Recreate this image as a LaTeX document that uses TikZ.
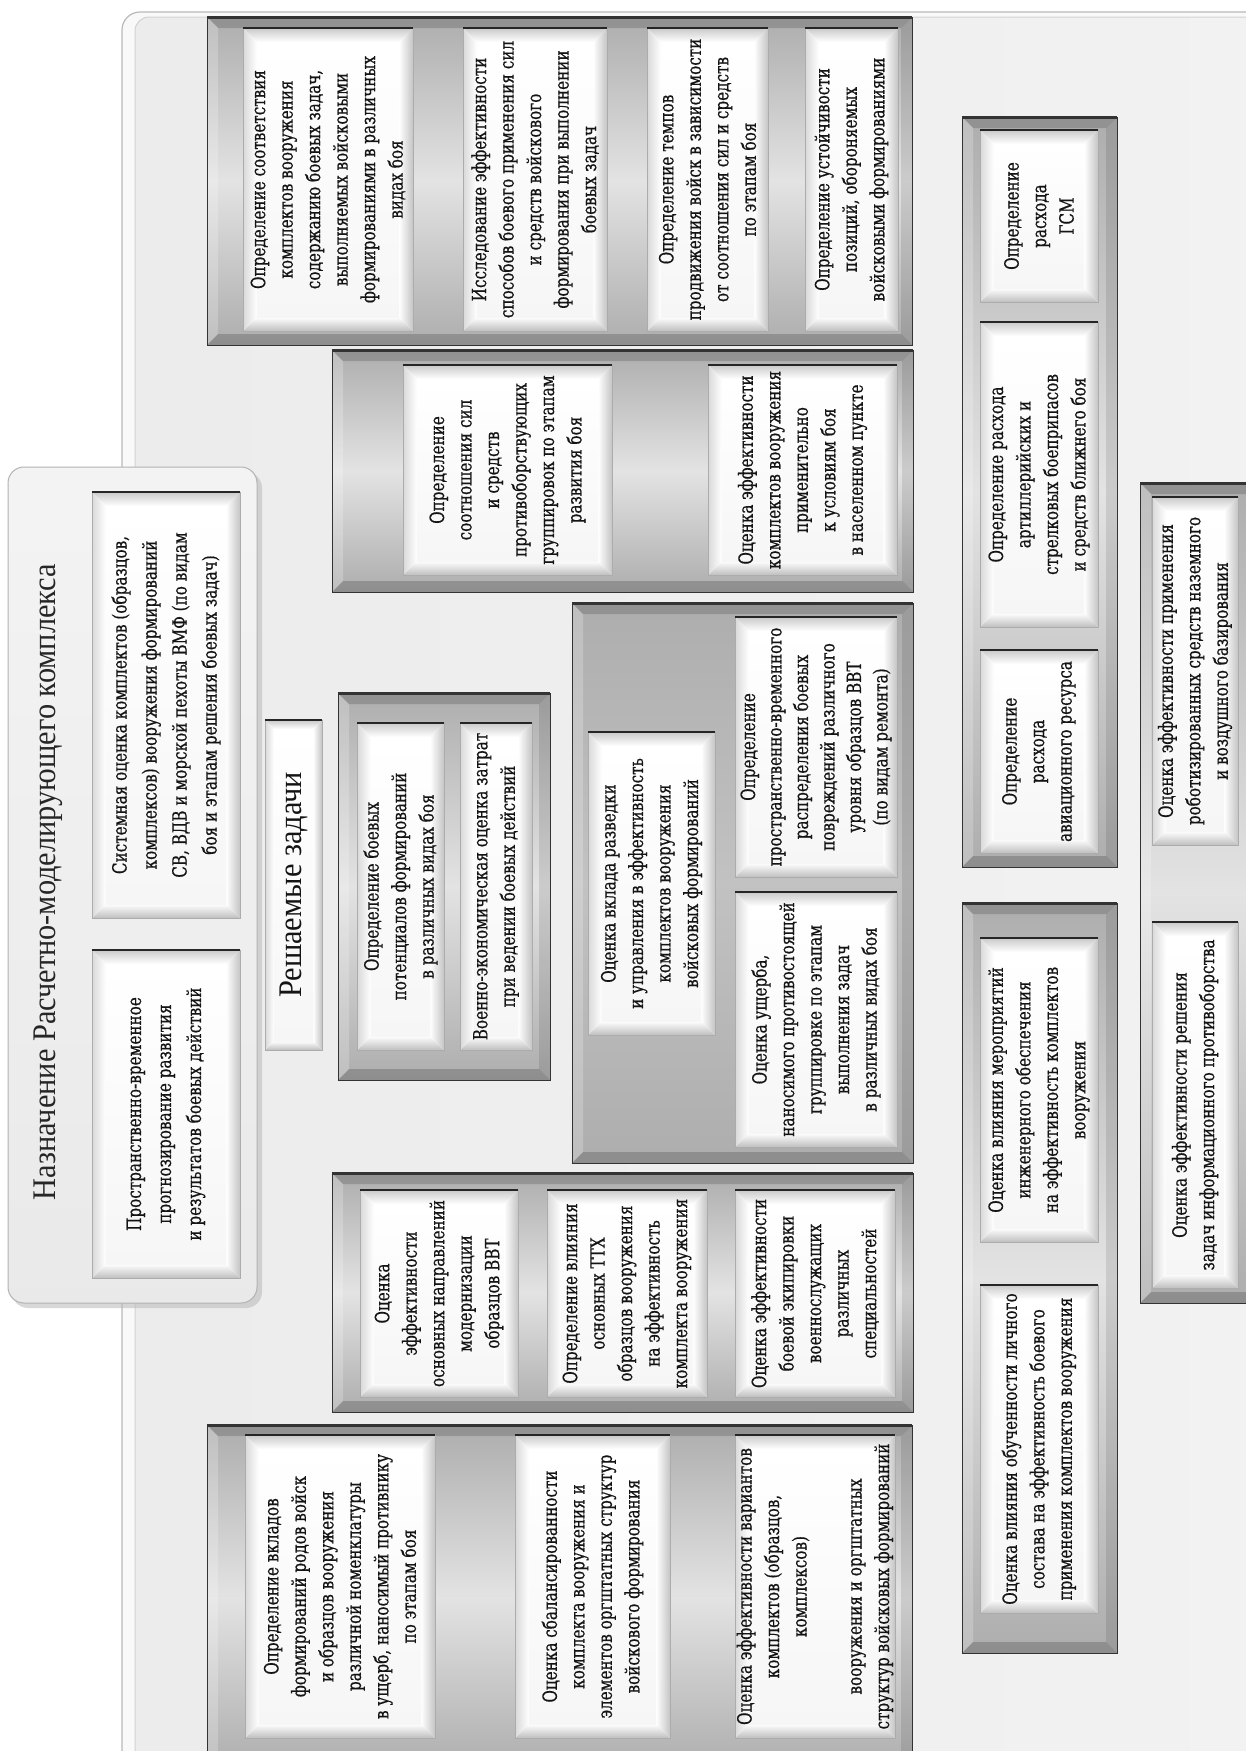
\documentclass[tikz,border=0pt]{standalone}
\usepackage{fontspec}
\setmainfont{Liberation Serif}
\newfontfamily\boxfont{DejaVu Serif}[FakeStretch=0.78,FakeBold=0.6]
\newfontfamily\headfont{Liberation Serif}[FakeStretch=0.92]

% bevelled white cell: [bevel]{name}{x1}{y1}{x2}{y2}{text}
\newcommand{\tbox}[7][14]{%
  \pgfmathsetmacro\bxa{#3+#1}\pgfmathsetmacro\bxb{#5-#1}%
  \pgfmathsetmacro\bya{#4+#1}\pgfmathsetmacro\byb{#6-#1}%
  \fill[white] (#3,#4) rectangle (#5,#6);
  \shade[top color=gray!42, bottom color=white] (#3,#4) -- (#5,#4) -- (\bxb,\bya) -- (\bxa,\bya) -- cycle;
  \shade[top color=white, bottom color=gray!50] (#3,#6) -- (#5,#6) -- (\bxb,\byb) -- (\bxa,\byb) -- cycle;
  \shade[left color=gray!30, right color=white] (#3,#4) -- (\bxa,\bya) -- (\bxa,\byb) -- (#3,#6) -- cycle;
  \shade[left color=white, right color=gray!46] (#5,#4) -- (\bxb,\bya) -- (\bxb,\byb) -- (#5,#6) -- cycle;
  \shade[top color=white, bottom color=gray!7] (\bxa,\bya) rectangle (\bxb,\byb);
  \draw[boxedge] (#3,#4) rectangle (#5,#6);
  \draw[gray!30!black, line width=1.4] (#3,#4) -- (#5,#4);
  \node[boxtext] (#2) at ({(#3+#5)/2},{(#4+#6)/2}) {#7};
}

% raised grey panel holding a group of cells: [middle colour]{x1}{y1}{x2}{y2}
\newcommand{\gframe}[5][gray!22]{%
  \pgfmathsetmacro\gxa{#2+11}\pgfmathsetmacro\gxb{#4-11}%
  \pgfmathsetmacro\gya{#3+11}\pgfmathsetmacro\gyb{#5-11}%
  \shade[top color=gray!64, bottom color=gray!64, middle color=#1] (#2,#3) rectangle (#4,#5);
  \fill[black, opacity=.16] (#2,#3) -- (#4,#3) -- (\gxb,\gya) -- (\gxa,\gya) -- cycle;
  \fill[white, opacity=.22] (#2,#3) -- (\gxa,\gya) -- (\gxa,\gyb) -- (#2,#5) -- cycle;
  \fill[black, opacity=.10] (#4,#3) -- (\gxb,\gya) -- (\gxb,\gyb) -- (#4,#5) -- cycle;
  \fill[black, opacity=.18] (#2,#5) -- (#4,#5) -- (\gxb,\gyb) -- (\gxa,\gyb) -- cycle;
  \draw[gray!40!black, line width=1] (#2,#3) rectangle (#4,#5);
  \draw[black!80, line width=3] (#2,#3) -- (#4,#3);
}

\begin{document}
\begin{tikzpicture}[x=1pt,y=-1pt,
  boxtext/.style={rotate=90, align=center, inner sep=0pt,
    font=\boxfont\fontsize{19.5}{27.5}\selectfont, text=black!92},
  headtext/.style={rotate=90, inner sep=0pt,
    font=\headfont\fontsize{33}{38}\selectfont, text=black!85},
  boxedge/.style={draw=gray!65, line width=0.8},
]
\useasboundingbox (0,0) rectangle (1246,1751);
\begin{scope}
\clip (0,0) rectangle (1246,1751);
\fill[white] (0,0) rectangle (1246,1751);

% outer sheet with double rounded border
\draw[gray!55, line width=1.2, fill=gray!5, rounded corners=18] (122,12) rectangle (1330,1830);
\shade[rounded corners=14, left color=gray!15, right color=gray!10] (135,17) rectangle (1330,1830);
\draw[gray!35, line width=1, rounded corners=14] (135,17) rectangle (1330,1830);

% heading panel
\fill[gray!55, opacity=.55, rounded corners=16] (12,472) rectangle (262,1308);
\shadedraw[rounded corners=16, top color=gray!9, bottom color=gray!17, draw=gray!60, line width=1]
  (8,467) rectangle (257,1303);
\node[headtext] (title) at (48,882) {Назначение Расчетно-моделирующего комплекса};

\begin{scope}[boxtext/.append style={font=\boxfont\fontsize{19.5}{30}\selectfont}]
\tbox{purpose1}{92}{492}{240}{918}{Системная оценка комплектов (образцов,\\
  комплексов) вооружения формирований\\
  СВ, ВДВ и морской пехоты ВМФ (по видам\\
  боя и этапам решения боевых задач)}
\tbox{purpose2}{92}{950}{240}{1278}{Пространственно-временное\\
  прогнозирование развития\\
  и результатов боевых действий}
\end{scope}

\tbox[9]{tasks}{265}{720}{322}{1050}{\headfont\fontsize{33}{38}\selectfont Решаемые задачи}

% top row
\gframe{207}{17}{912}{345}
\tbox{f1}{243}{28}{413}{331}{Определение соответствия\\
  комплектов вооружения\\ содержанию боевых задач,\\ выполняемых войсковыми\\
  формированиями в различных\\ видах боя}
\tbox{f2}{463}{28}{607}{331}{Исследование эффективности\\
  способов боевого применения сил\\ и средств войскового\\
  формирования при выполнении\\ боевых задач}
\tbox{f3}{647}{28}{768}{331}{Определение темпов\\
  продвижения войск в зависимости\\ от соотношения сил и средств\\ по этапам боя}
\tbox{f4}{805}{28}{898}{331}{Определение устойчивости\\
  позиций, обороняемых\\ войсковыми формированиями}

% second row
\gframe{332}{350}{913}{592}
\tbox{e1}{403}{365}{612}{575}{Определение\\ соотношения сил\\ и средств\\
  противоборствующих\\ группировок по этапам\\ развития боя}
\tbox{e2}{708}{365}{897}{575}{Оценка эффективности\\ комплектов вооружения\\
  применительно\\ к условиям боя\\ в населенном пункте}

% potentials and costs
\gframe{338}{693}{550}{1080}
\tbox{c1}{357}{723}{444}{1050}{Определение боевых\\ потенциалов формирований\\ в различных видах боя}
\tbox{c2}{460}{723}{532}{1050}{Военно-экономическая оценка затрат\\ при ведении боевых действий}

% reconnaissance, damage
\gframe[gray!48]{572}{603}{913}{1163}
\tbox{d1}{588}{732}{715}{1035}{Оценка вклада разведки\\
  и управления в эффективность\\ комплектов вооружения\\ войсковых формирований}
\begin{scope}[boxtext/.append style={font=\boxfont\fontsize{19.5}{26.5}\selectfont}]
\tbox{d2}{735}{617}{897}{877}{Определение\\ пространственно-временного\\
  распределения боевых\\ повреждений различного\\ уровня образцов ВВТ\\ (по видам ремонта)}
\end{scope}
\tbox{d3}{735}{892}{897}{1147}{Оценка ущерба,\\ наносимого противостоящей\\
  группировке по этапам\\ выполнения задач\\ в различных видах боя}

% modernisation row
\gframe{332}{1173}{913}{1412}
\tbox{b1}{360}{1190}{518}{1397}{Оценка\\ эффективности\\ основных направлений\\
  модернизации\\ образцов ВВТ}
\tbox{b2}{547}{1190}{707}{1397}{Определение влияния\\ основных ТТХ\\
  образцов вооружения\\ на эффективность\\ комплекта вооружения}
\tbox{b3}{735}{1190}{895}{1397}{Оценка эффективности\\ боевой экипировки\\
  военнослужащих\\ различных\\ специальностей}

% bottom row
\gframe{207}{1425}{912}{1770}
\tbox{a1}{245}{1435}{435}{1738}{Определение вкладов\\ формирований родов войск\\
  и образцов вооружения\\ различной номенклатуры\\
  в ущерб, наносимый противнику\\ по этапам боя}
\tbox{a2}{515}{1435}{670}{1738}{Оценка сбалансированности\\ комплекта вооружения и\\
  элементов  оргштатных структур\\ войскового формирования}
\tbox{a3}{735}{1435}{895}{1738}{Оценка эффективности вариантов\\ комплектов (образцов,\\
  комплексов)\\[27.5pt] вооружения и оргштатных\\ структур войсковых формирований}

% consumption column
\gframe{962}{117}{1117}{867}
\tbox{h1}{980}{130}{1098}{302}{Определение\\ расхода\\ ГСМ}
\tbox{h2}{980}{322}{1098}{627}{Определение расхода\\ артиллерийских и\\
  стрелковых боеприпасов\\ и средств ближнего боя}
\tbox{h3}{980}{650}{1098}{853}{Определение\\ расхода\\ авиационного ресурса}

% engineering and training
\gframe{962}{903}{1117}{1653}
\tbox{g1}{980}{938}{1098}{1242}{Оценка влияния мероприятий\\ инженерного обеспечения\\
  на эффективность комплектов\\ вооружения}
\tbox{g2}{980}{1285}{1098}{1613}{Оценка влияния обученности личного\\
  состава на эффективность боевого\\ применения комплектов вооружения}

% robotics and information warfare
\gframe{1140}{483}{1258}{1303}
\tbox{i1}{1152}{497}{1238}{845}{Оценка эффективности применения\\
  роботизированных средств наземного\\ и воздушного базирования}
\tbox{i2}{1152}{922}{1238}{1288}{Оценка эффективности  решения\\
  задач информационного противоборства}
\end{scope}
\end{tikzpicture}
\end{document}
